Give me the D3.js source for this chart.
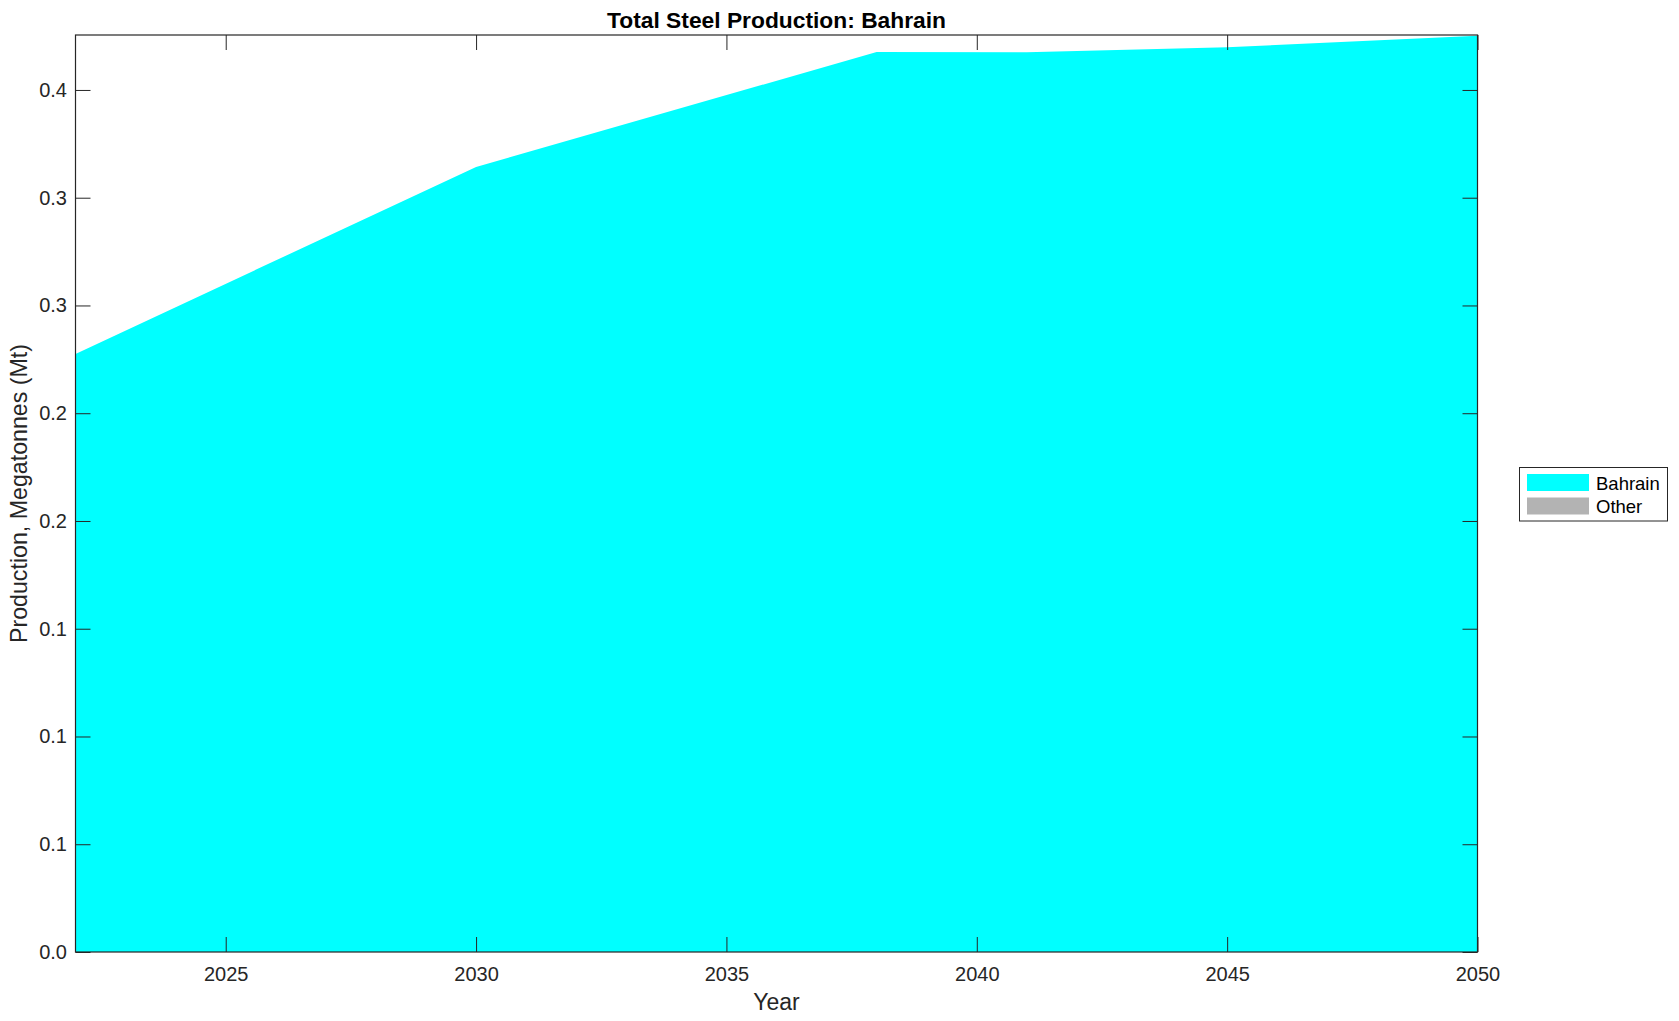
<!DOCTYPE html>
<html>
<head>
<meta charset="utf-8">
<script src="https://cdn.jsdelivr.net/npm/d3@7"></script>
<style>
  html, body { margin: 0; padding: 0; background: #fff; }
  svg { display: block; font-family: "Liberation Sans", Arial, Helvetica, sans-serif; }
</style>
</head>
<body>
<svg id="chart" width="1679" height="1021"></svg>
<script>
// ---- data ----
const years = [2022, 2030, 2038, 2041, 2045, 2050];
const bahrain = [0.2775, 0.3643, 0.4176, 0.4175, 0.4198, 0.4251];
const other = [0, 0, 0, 0, 0, 0];
const seriesNames = ["Bahrain", "Other"];
const seriesColors = ["#00ffff", "#b3b3b3"];
const xTickValues = [2025, 2030, 2035, 2040, 2045, 2050];
const yTickValues = [0, 0.05, 0.1, 0.15, 0.2, 0.25, 0.3, 0.35, 0.4];
const yTickLabels = ["0.0", "0.1", "0.1", "0.1", "0.2", "0.2", "0.3", "0.3", "0.4"];
const yMax = 0.4255;
const titleText = "Total Steel Production: Bahrain";
const xLabelText = "Year";
const yLabelText = "Production, Megatonnes (Mt)";

// ---- layout ----
const svg = d3.select("#chart");
const m = { left: 75.5, right: 1477.5, top: 35, bottom: 952 };
const axisColor = "#262626";

const x = d3.scaleLinear().domain([2022, 2050]).range([m.left, m.right]);
const y = d3.scaleLinear().domain([0, yMax]).range([m.bottom, m.top]);

const table = years.map((yr, i) => ({ year: yr, Bahrain: bahrain[i], Other: other[i] }));
const stacked = d3.stack().keys(seriesNames)(table);

const area = d3.area()
  .x(d => x(d.data.year))
  .y0(d => y(d[0]))
  .y1(d => y(d[1]));

svg.append("g").selectAll("path")
  .data(stacked)
  .join("path")
  .attr("d", area)
  .attr("fill", (d, i) => seriesColors[i])
  .attr("stroke", "none");

// ---- axes ----
const tickLen = 15;
const fontTick = 20;

const gx = svg.append("g").attr("transform", `translate(0,${m.bottom})`)
  .call(d3.axisBottom(x).tickValues(xTickValues).tickFormat(d3.format("d"))
    .tickSizeInner(-tickLen).tickSizeOuter(0).tickPadding(15));
const gxTop = svg.append("g").attr("transform", `translate(0,${m.top})`)
  .call(d3.axisTop(x).tickValues(xTickValues).tickFormat("")
    .tickSizeInner(-tickLen).tickSizeOuter(0));
const gy = svg.append("g").attr("transform", `translate(${m.left},0)`)
  .call(d3.axisLeft(y).tickValues(yTickValues).tickFormat((d, i) => yTickLabels[i])
    .tickSizeInner(-tickLen).tickSizeOuter(0).tickPadding(8.5));
const gyRight = svg.append("g").attr("transform", `translate(${m.right},0)`)
  .call(d3.axisRight(y).tickValues(yTickValues).tickFormat("")
    .tickSizeInner(-tickLen).tickSizeOuter(0));

[gx, gxTop, gy, gyRight].forEach(g => {
  g.select(".domain").remove();
  g.selectAll(".tick line").attr("stroke", axisColor).attr("stroke-width", 1);
  g.selectAll(".tick text").attr("fill", axisColor)
    .attr("font-size", fontTick)
    .attr("font-family", "Liberation Sans, Arial, sans-serif");
});

// box
svg.append("rect")
  .attr("x", m.left).attr("y", m.top)
  .attr("width", m.right - m.left).attr("height", m.bottom - m.top)
  .attr("fill", "none").attr("stroke", axisColor).attr("stroke-width", 1.2);

// ---- titles ----
svg.append("text")
  .attr("x", (m.left + m.right) / 2).attr("y", 27.5)
  .attr("text-anchor", "middle")
  .attr("font-size", 22.8).attr("font-weight", "bold").attr("fill", "#000")
  .text(titleText);

svg.append("text")
  .attr("x", (m.left + m.right) / 2).attr("y", 1010)
  .attr("text-anchor", "middle")
  .attr("font-size", 23).attr("fill", axisColor)
  .text(xLabelText);

svg.append("text")
  .attr("transform", `translate(27,${(m.top + m.bottom) / 2}) rotate(-90)`)
  .attr("text-anchor", "middle")
  .attr("font-size", 23.2).attr("fill", axisColor)
  .text(yLabelText);

// ---- legend ----
const lg = svg.append("g");
lg.append("rect")
  .attr("x", 1519.5).attr("y", 467.5).attr("width", 148).attr("height", 53.5)
  .attr("fill", "#fff").attr("stroke", axisColor).attr("stroke-width", 1);
seriesNames.forEach((name, i) => {
  const yy = 474 + i * 23.5;
  lg.append("rect")
    .attr("x", 1527).attr("y", yy).attr("width", 62).attr("height", 17)
    .attr("fill", seriesColors[i]);
  lg.append("text")
    .attr("x", 1596).attr("y", yy + 15.5)
    .attr("font-size", 18.5).attr("fill", "#000")
    .text(name);
});
</script>
</body>
</html>
